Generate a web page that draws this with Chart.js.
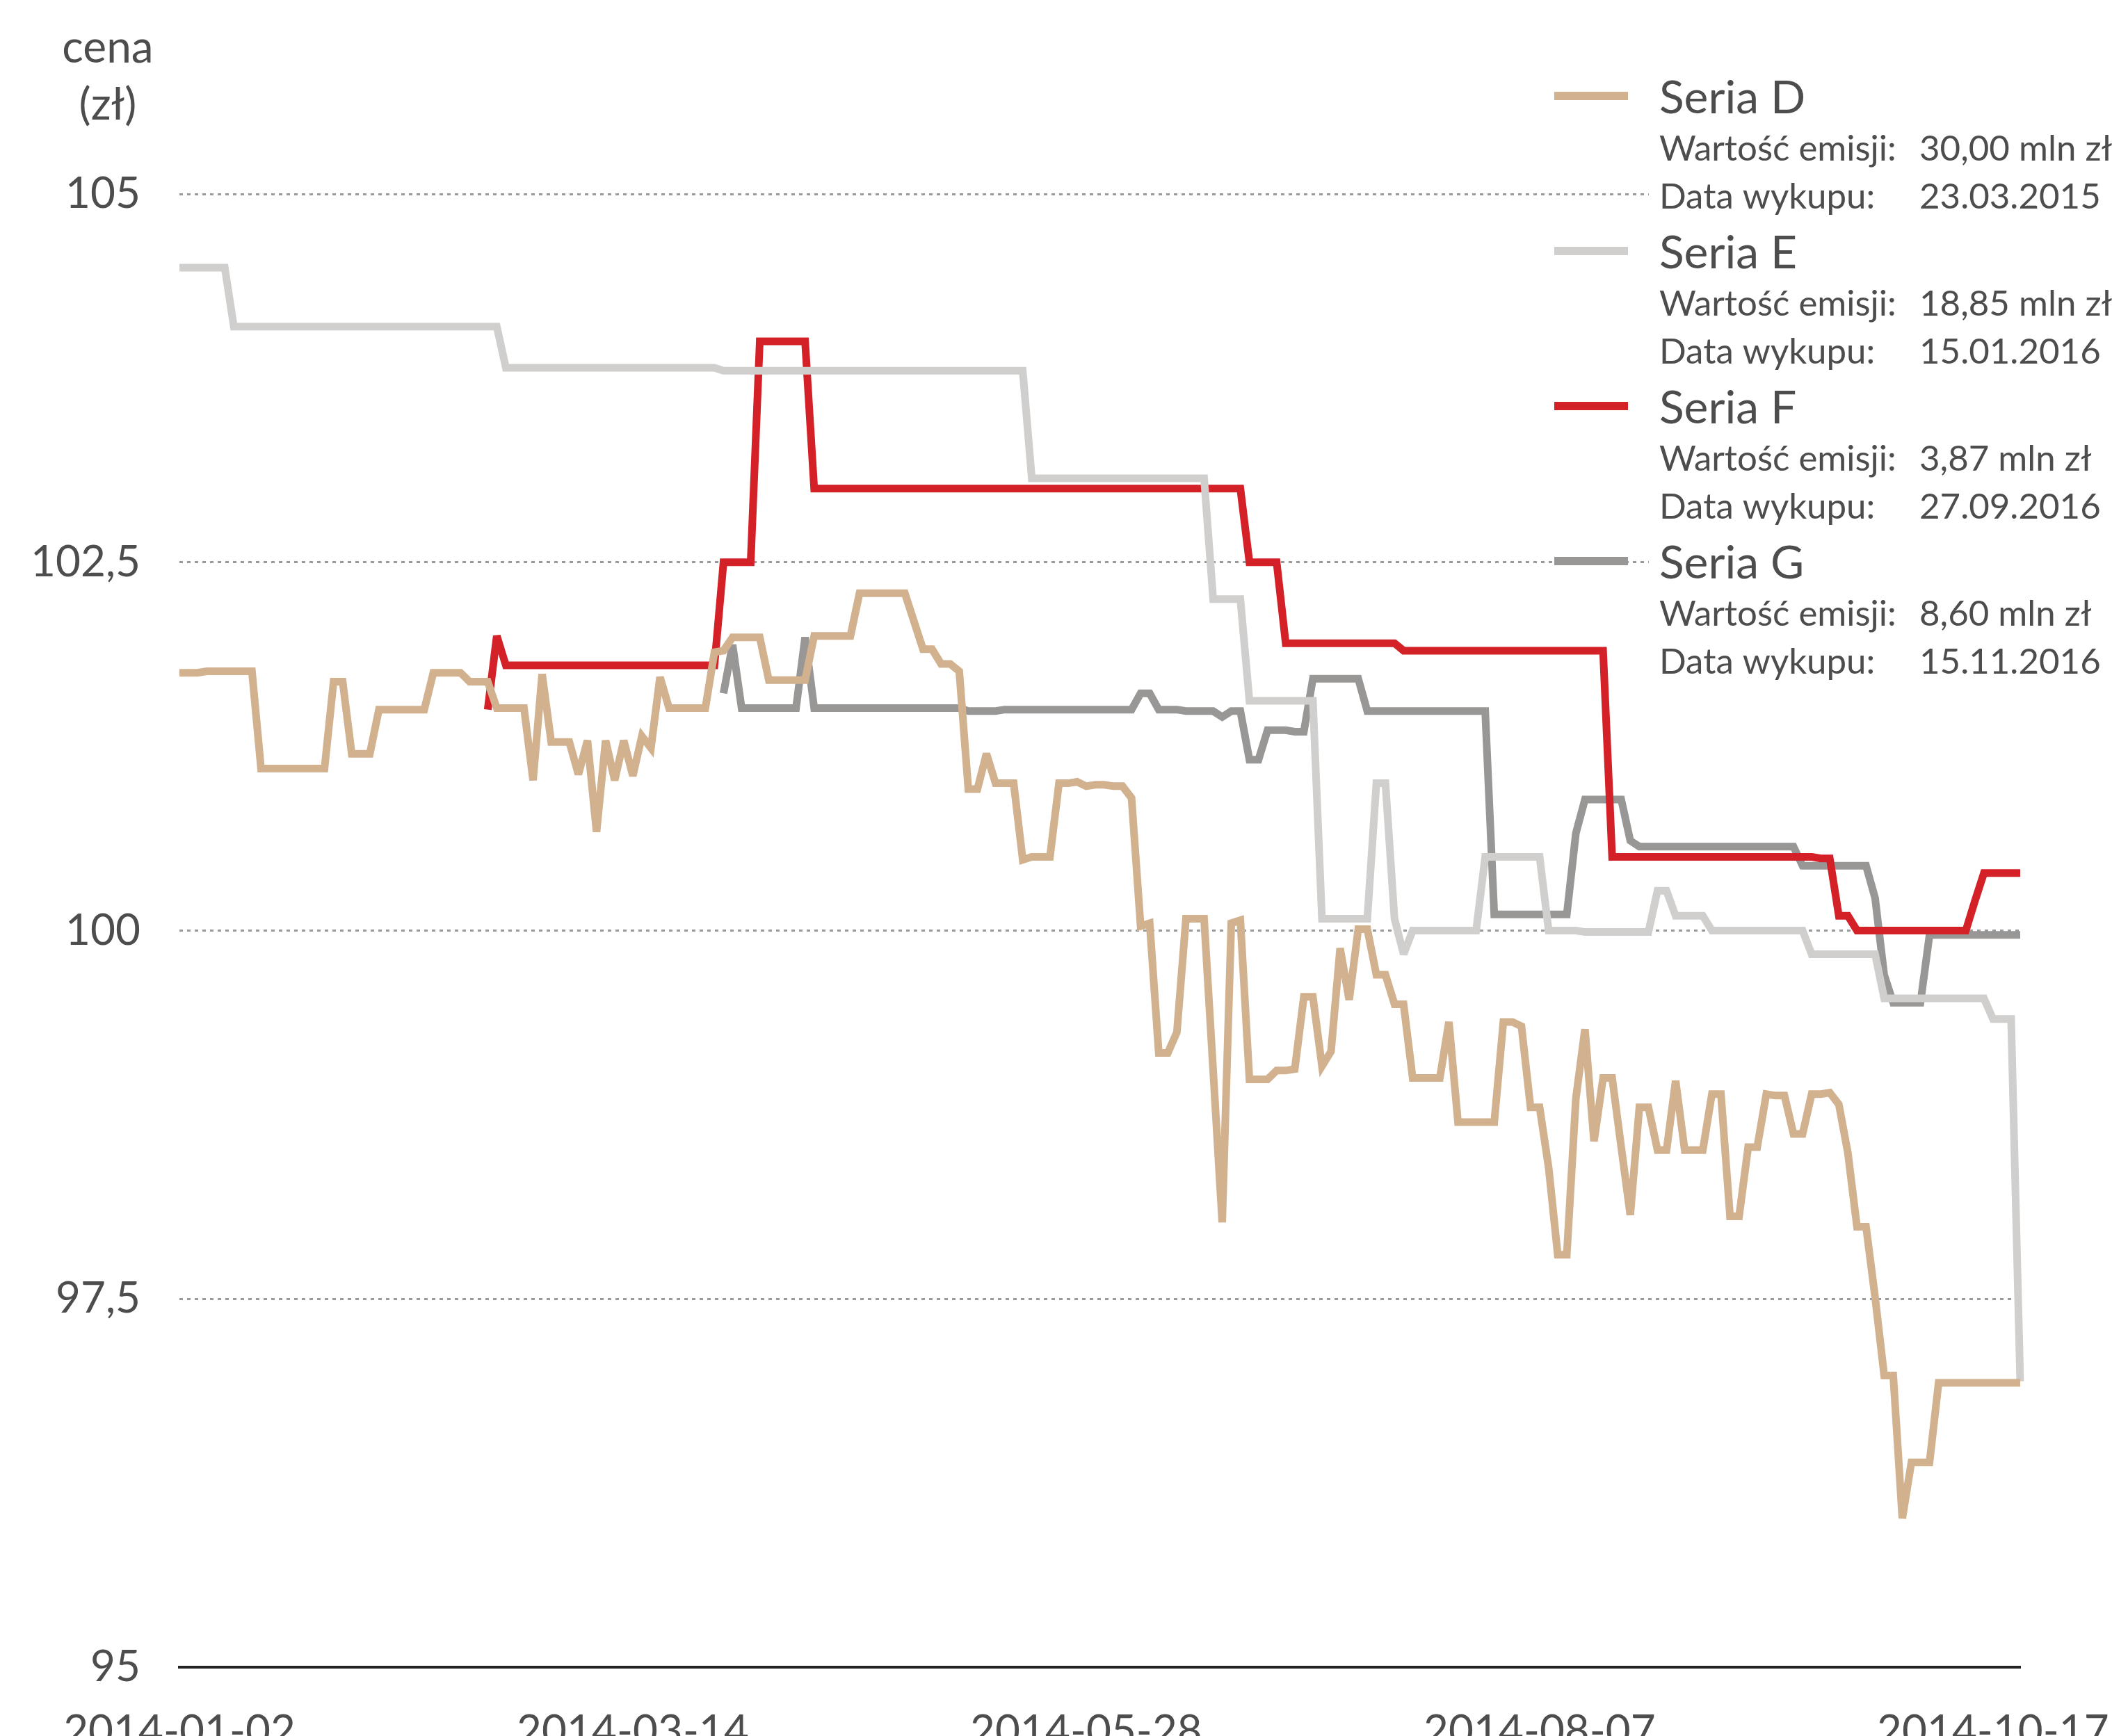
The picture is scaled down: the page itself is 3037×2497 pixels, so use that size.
<!DOCTYPE html>
<html lang="pl">
<head>
<meta charset="UTF-8">
<title>Notowania obligacji – serie D, E, F, G</title>
<script src="https://cdn.jsdelivr.net/npm/chart.js@4.4.1/dist/chart.umd.min.js"></script>
<style>
    html, body {
        margin: 0;
        padding: 0;
        background: #fff;
    }
    .wrap {
        width: 3037px;
        height: 2497px;
    }
</style>
</head>
<body>
<div class="wrap"><canvas id="bondChart"></canvas></div>

<script>
    // dni bez sesji w 2014 (do końca października)
    const holidays = ['2014-01-01', '2014-01-06', '2014-04-18', '2014-04-21', '2014-05-01', '2014-06-19', '2014-08-15'];
    const sessionCount = 204;

    const tickLabels = ['2014-01-02', '2014-03-14', '2014-05-28', '2014-08-07', '2014-10-17'];
    const yTicks = [95, 97.5, 100, 102.5, 105];

    const seriesNames = ['Seria D', 'Seria E', 'Seria F', 'Seria G'];
    const seriesColors = ['#d2b18f', '#d0cfcd', '#d42027', '#989796'];
    const issueValues = ['30,00 mln zł', '18,85 mln zł', '3,87 mln zł', '8,60 mln zł'];
    const maturityDates = ['23.03.2015', '15.01.2016', '27.09.2016', '15.11.2016'];

    // kursy z kolejnych sesji (cena w zł)
    const seriaD = [
        101.75,101.75,101.75,101.76,101.76,101.76,101.76,101.76,101.76,101.10,
        101.10,101.10,101.10,101.10,101.10,101.10,101.10,101.69,101.69,101.20,
        101.20,101.20,101.50,101.50,101.50,101.50,101.50,101.50,101.75,101.75,
        101.75,101.75,101.69,101.69,101.69,101.51,101.51,101.51,101.51,101.02,
        101.74,101.28,101.28,101.28,101.06,101.29,100.67,101.29,101.02,101.29,
        101.05,101.32,101.24,101.72,101.51,101.51,101.51,101.51,101.51,101.89,
        101.90,101.99,101.99,101.99,101.99,101.70,101.70,101.70,101.70,101.70,
        102.00,102.00,102.00,102.00,102.00,102.29,102.29,102.29,102.29,102.29,
        102.29,102.10,101.91,101.91,101.81,101.81,101.76,100.96,100.96,101.20,
        101.00,101.00,101.00,100.48,100.50,100.50,100.50,101.00,101.00,101.01,
        100.98,100.99,100.99,100.98,100.98,100.90,100.03,100.05,99.17,99.17,
        99.31,100.08,100.08,100.08,99.05,98.02,100.05,100.07,98.99,98.99,
        98.99,99.05,99.05,99.06,99.55,99.55,99.08,99.18,99.88,99.53,
        100.01,100.01,99.70,99.70,99.50,99.50,99.00,99.00,99.00,99.00,
        99.38,98.70,98.70,98.70,98.70,98.70,99.38,99.38,99.35,98.80,
        98.80,98.39,97.80,97.80,98.86,99.33,98.57,99.00,99.00,98.53,
        98.07,98.80,98.80,98.51,98.51,98.98,98.51,98.51,98.51,98.89,
        98.89,98.06,98.06,98.53,98.53,98.89,98.88,98.88,98.62,98.62,
        98.89,98.89,98.90,98.82,98.49,97.99,97.99,97.51,96.98,96.98,
        96.01,96.39,96.39,96.39,96.93,96.93,96.93,96.93,96.93,96.93,
        96.93,96.93,96.93,96.93
    ];

    const seriaE = [
        104.50,104.50,104.50,104.50,104.50,104.50,104.10,104.10,104.10,104.10,
        104.10,104.10,104.10,104.10,104.10,104.10,104.10,104.10,104.10,104.10,
        104.10,104.10,104.10,104.10,104.10,104.10,104.10,104.10,104.10,104.10,
        104.10,104.10,104.10,104.10,104.10,104.10,103.82,103.82,103.82,103.82,
        103.82,103.82,103.82,103.82,103.82,103.82,103.82,103.82,103.82,103.82,
        103.82,103.82,103.82,103.82,103.82,103.82,103.82,103.82,103.82,103.82,
        103.80,103.80,103.80,103.80,103.80,103.80,103.80,103.80,103.80,103.80,
        103.80,103.80,103.80,103.80,103.80,103.80,103.80,103.80,103.80,103.80,
        103.80,103.80,103.80,103.80,103.80,103.80,103.80,103.80,103.80,103.80,
        103.80,103.80,103.80,103.80,103.07,103.07,103.07,103.07,103.07,103.07,
        103.07,103.07,103.07,103.07,103.07,103.07,103.07,103.07,103.07,103.07,
        103.07,103.07,103.07,103.07,102.25,102.25,102.25,102.25,101.56,101.56,
        101.56,101.56,101.56,101.56,101.56,101.56,100.08,100.08,100.08,100.08,
        100.08,100.08,101.00,101.00,100.08,99.84,100.00,100.00,100.00,100.00,
        100.00,100.00,100.00,100.00,100.50,100.50,100.50,100.50,100.50,100.50,
        100.50,100.00,100.00,100.00,100.00,99.99,99.99,99.99,99.99,99.99,
        99.99,99.99,99.99,100.27,100.27,100.10,100.10,100.10,100.10,100.00,
        100.00,100.00,100.00,100.00,100.00,100.00,100.00,100.00,100.00,100.00,
        99.84,99.84,99.84,99.84,99.84,99.84,99.84,99.84,99.54,99.54,
        99.54,99.54,99.54,99.54,99.54,99.54,99.54,99.54,99.54,99.54,
        99.40,99.40,99.40,96.94
    ];

    const seriaF = [
        null,null,null,null,null,null,null,null,null,null,
        null,null,null,null,null,null,null,null,null,null,
        null,null,null,null,null,null,null,null,null,null,
        null,null,null,null,101.50,102.00,101.80,101.80,101.80,101.80,
        101.80,101.80,101.80,101.80,101.80,101.80,101.80,101.80,101.80,101.80,
        101.80,101.80,101.80,101.80,101.80,101.80,101.80,101.80,101.80,101.80,
        102.50,102.50,102.50,102.50,104.00,104.00,104.00,104.00,104.00,104.00,
        103.00,103.00,103.00,103.00,103.00,103.00,103.00,103.00,103.00,103.00,
        103.00,103.00,103.00,103.00,103.00,103.00,103.00,103.00,103.00,103.00,
        103.00,103.00,103.00,103.00,103.00,103.00,103.00,103.00,103.00,103.00,
        103.00,103.00,103.00,103.00,103.00,103.00,103.00,103.00,103.00,103.00,
        103.00,103.00,103.00,103.00,103.00,103.00,103.00,103.00,102.50,102.50,
        102.50,102.50,101.95,101.95,101.95,101.95,101.95,101.95,101.95,101.95,
        101.95,101.95,101.95,101.95,101.95,101.90,101.90,101.90,101.90,101.90,
        101.90,101.90,101.90,101.90,101.90,101.90,101.90,101.90,101.90,101.90,
        101.90,101.90,101.90,101.90,101.90,101.90,101.90,101.90,100.50,100.50,
        100.50,100.50,100.50,100.50,100.50,100.50,100.50,100.50,100.50,100.50,
        100.50,100.50,100.50,100.50,100.50,100.50,100.50,100.50,100.50,100.50,
        100.50,100.49,100.49,100.10,100.10,100.00,100.00,100.00,100.00,100.00,
        100.00,100.00,100.00,100.00,100.00,100.00,100.00,100.00,100.20,100.39,
        100.39,100.39,100.39,100.39
    ];

    const seriaG = [
        null,null,null,null,null,null,null,null,null,null,
        null,null,null,null,null,null,null,null,null,null,
        null,null,null,null,null,null,null,null,null,null,
        null,null,null,null,null,null,null,null,null,null,
        null,null,null,null,null,null,null,null,null,null,
        null,null,null,null,null,null,null,null,null,null,
        101.61,101.94,101.51,101.51,101.51,101.51,101.51,101.51,101.51,101.99,
        101.51,101.51,101.51,101.51,101.51,101.51,101.51,101.51,101.51,101.51,
        101.51,101.51,101.51,101.51,101.51,101.51,101.51,101.49,101.49,101.49,
        101.49,101.50,101.50,101.50,101.50,101.50,101.50,101.50,101.50,101.50,
        101.50,101.50,101.50,101.50,101.50,101.50,101.61,101.61,101.50,101.50,
        101.50,101.49,101.49,101.49,101.49,101.45,101.49,101.49,101.16,101.16,
        101.36,101.36,101.36,101.35,101.35,101.71,101.71,101.71,101.71,101.71,
        101.71,101.49,101.49,101.49,101.49,101.49,101.49,101.49,101.49,101.49,
        101.49,101.49,101.49,101.49,101.49,100.11,100.11,100.11,100.11,100.11,
        100.11,100.11,100.11,100.11,100.66,100.89,100.89,100.89,100.89,100.89,
        100.61,100.57,100.57,100.57,100.57,100.57,100.57,100.57,100.57,100.57,
        100.57,100.57,100.57,100.57,100.57,100.57,100.57,100.57,100.57,100.44,
        100.44,100.44,100.44,100.44,100.44,100.44,100.44,100.22,99.70,99.51,
        99.51,99.51,99.51,99.97,99.97,99.97,99.97,99.97,99.97,99.97,
        99.97,99.97,99.97,99.97
    ];

    // daty kolejnych sesji: dni robocze bez świąt
    const sessionDates = [];
    const day = new Date(Date.UTC(2014, 0, 2));
    while (sessionDates.length < sessionCount) {
        const iso = day.toISOString().slice(0, 10);
        const wd = day.getUTCDay();
        if (wd !== 0 && wd !== 6 && !holidays.includes(iso)) {
            sessionDates.push(iso);
        }
        day.setUTCDate(day.getUTCDate() + 1);
    }

    const textColor = '#4d4d4d';
    const fontFamily = 'Lato, "Noto Sans", sans-serif';

    // krótsze ostrza na ostrych załamaniach linii
    const miterPlugin = {
        id: 'miterLimit',
        beforeDatasetsDraw(chart) {
            chart.ctx.save();
            chart.ctx.miterLimit = 3;
        },
        afterDatasetsDraw(chart) {
            chart.ctx.restore();
        }
    };

    // legenda z opisem emisji + podpis osi Y
    const sidePlugin = {
        id: 'sideNotes',
        afterDraw(chart) {
            const c = chart.ctx;
            c.save();

            c.fillStyle = textColor;
            c.textAlign = 'center';
            c.textBaseline = 'alphabetic';
            c.font = '64px ' + fontFamily;
            c.fillText('cena', 155, 90);
            c.fillText('(zł)', 155, 172);

            c.fillStyle = '#fff';
            c.fillRect(2371, 90, 3037 - 2371, 900);

            seriesNames.forEach((name, i) => {
                const top = 223 * i;
                c.strokeStyle = seriesColors[i];
                c.lineWidth = 12;
                c.beginPath();
                c.moveTo(2235, 138 + top);
                c.lineTo(2341, 138 + top);
                c.stroke();

                c.fillStyle = textColor;
                c.textAlign = 'left';
                c.font = '66px ' + fontFamily;
                c.fillText(name, 2386, 163 + top);

                c.font = '51px ' + fontFamily;
                c.fillText('Wartość emisji:', 2386, 231 + top);
                c.fillText(issueValues[i], 2760, 231 + top);
                c.fillText('Data wykupu:', 2386, 300 + top);
                c.fillText(maturityDates[i], 2760, 300 + top);
            });

            c.restore();
        }
    };

    const ctx = document.getElementById('bondChart').getContext('2d');
    const bondChart = new Chart(ctx, {
        type: 'line',
        data: {
            labels: sessionDates,
            datasets: [
                { label: seriesNames[0], data: seriaD, borderColor: seriesColors[0] },
                { label: seriesNames[1], data: seriaE, borderColor: seriesColors[1] },
                { label: seriesNames[2], data: seriaF, borderColor: seriesColors[2] },
                { label: seriesNames[3], data: seriaG, borderColor: seriesColors[3] }
            ]
        },
        options: {
            responsive: true,
            maintainAspectRatio: false,
            animation: false,
            devicePixelRatio: 1,
            layout: {
                padding: { top: 279, right: 132, bottom: 0, left: 0 }
            },
            elements: {
                point: { radius: 0, hoverRadius: 0 },
                line: {
                    borderWidth: 11,
                    tension: 0,
                    fill: false,
                    borderJoinStyle: 'miter',
                    borderCapStyle: 'butt'
                }
            },
            plugins: {
                legend: { display: false },
                tooltip: { enabled: false }
            },
            scales: {
                x: {
                    grid: { display: false },
                    border: { display: true, color: '#222', width: 4 },
                    ticks: {
                        autoSkip: false,
                        maxRotation: 0,
                        padding: 48,
                        color: textColor,
                        font: { family: fontFamily, size: 62 },
                        callback: function(value) {
                            const d = this.getLabelForValue(value);
                            return tickLabels.includes(d) ? d : null;
                        }
                    },
                    afterFit: scale => {
                        scale.height = 99;
                        scale.paddingRight = 0;
                    }
                },
                y: {
                    min: yTicks[0],
                    max: yTicks[yTicks.length - 1],
                    afterBuildTicks: scale => {
                        scale.ticks = yTicks.map(v => ({ value: v }));
                    },
                    ticks: {
                        padding: 56,
                        color: textColor,
                        font: { family: fontFamily, size: 62 },
                        callback: v => String(v).replace('.', ',')
                    },
                    grid: {
                        drawTicks: false,
                        lineWidth: 3,
                        color: c => (c.tick && c.tick.value === 95) ? 'rgba(0,0,0,0)' : '#9a9a9a'
                    },
                    border: { display: false, dash: [5, 6] },
                    afterFit: scale => { scale.width = 258; }
                }
            }
        },
        plugins: [miterPlugin, sidePlugin]
    });
</script>
</body>
</html>
